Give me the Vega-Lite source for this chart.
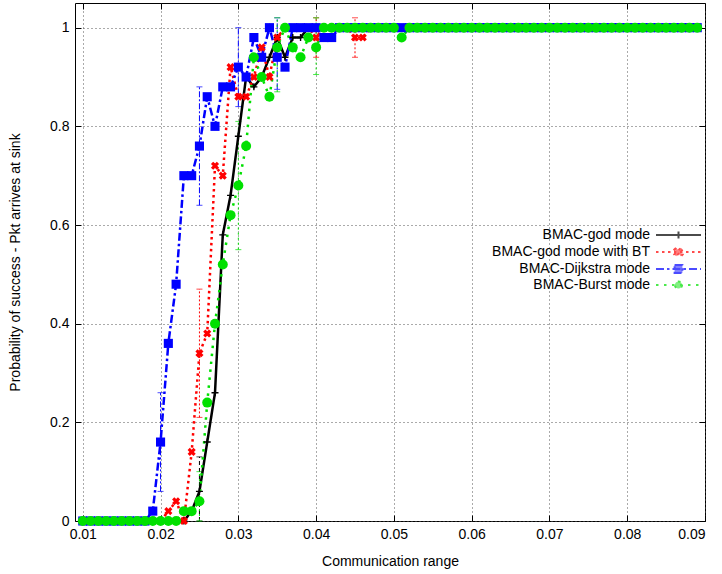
{
  "$schema": "https://vega.github.io/schema/vega-lite/v6.json",
  "width": 630,
  "height": 518,
  "autosize": {"type": "none"},
  "padding": {"left": 75, "top": 3, "right": 17, "bottom": 53},
  "background": "white",
  "config": {
    "view": {"stroke": "#000", "strokeWidth": 1},
    "font": "Liberation Sans",
    "axis": {
      "labelFont": "Liberation Sans", "labelFontSize": 14, "labelColor": "#000",
      "titleFont": "Liberation Sans", "titleFontSize": 14, "titleFontWeight": "normal", "titleColor": "#000",
      "domain": false, "gridColor": "#555", "gridDash": [1, 3], "gridOpacity": 1, "gridWidth": 1,
      "tickColor": "#000", "tickWidth": 1
    },
    "legend": {"title": null, "orient": "none", "legendX": 596.5, "legendY": 225, "padding": 0, "labelAlign": "right", "labelOffset": -35.5, "labelFont": "Liberation Sans", "labelFontSize": 14, "labelColor": "#000", "labelLimit": 400, "symbolSize": 144, "symbolStrokeWidth": 2, "rowPadding": 0}
  },
  "datasets": {
    "pts": [
      {"series":"BMAC-god mode","x":0.010,"y":0},{"series":"BMAC-god mode","x":0.011,"y":0},{"series":"BMAC-god mode","x":0.012,"y":0},{"series":"BMAC-god mode","x":0.013,"y":0},{"series":"BMAC-god mode","x":0.014,"y":0},{"series":"BMAC-god mode","x":0.015,"y":0},{"series":"BMAC-god mode","x":0.016,"y":0},{"series":"BMAC-god mode","x":0.017,"y":0},{"series":"BMAC-god mode","x":0.018,"y":0},{"series":"BMAC-god mode","x":0.019,"y":0},
      {"series":"BMAC-god mode","x":0.020,"y":0},{"series":"BMAC-god mode","x":0.021,"y":0},{"series":"BMAC-god mode","x":0.022,"y":0},{"series":"BMAC-god mode","x":0.023,"y":0},{"series":"BMAC-god mode","x":0.024,"y":0.02},{"series":"BMAC-god mode","x":0.025,"y":0.06},{"series":"BMAC-god mode","x":0.026,"y":0.16},{"series":"BMAC-god mode","x":0.027,"y":0.26},{"series":"BMAC-god mode","x":0.028,"y":0.58},{"series":"BMAC-god mode","x":0.029,"y":0.66},
      {"series":"BMAC-god mode","x":0.030,"y":0.78},{"series":"BMAC-god mode","x":0.031,"y":0.90},{"series":"BMAC-god mode","x":0.032,"y":0.88},{"series":"BMAC-god mode","x":0.033,"y":0.90},{"series":"BMAC-god mode","x":0.034,"y":0.94},{"series":"BMAC-god mode","x":0.035,"y":0.98},{"series":"BMAC-god mode","x":0.036,"y":0.94},{"series":"BMAC-god mode","x":0.037,"y":0.98},{"series":"BMAC-god mode","x":0.038,"y":0.98},{"series":"BMAC-god mode","x":0.039,"y":1},
      {"series":"BMAC-god mode","x":0.040,"y":1},{"series":"BMAC-god mode","x":0.041,"y":1},{"series":"BMAC-god mode","x":0.042,"y":1},{"series":"BMAC-god mode","x":0.043,"y":1},{"series":"BMAC-god mode","x":0.044,"y":1},{"series":"BMAC-god mode","x":0.045,"y":1},{"series":"BMAC-god mode","x":0.046,"y":1},{"series":"BMAC-god mode","x":0.047,"y":1},{"series":"BMAC-god mode","x":0.048,"y":1},{"series":"BMAC-god mode","x":0.049,"y":1},
      {"series":"BMAC-god mode","x":0.050,"y":1},{"series":"BMAC-god mode","x":0.051,"y":1},{"series":"BMAC-god mode","x":0.052,"y":1},{"series":"BMAC-god mode","x":0.053,"y":1},{"series":"BMAC-god mode","x":0.054,"y":1},{"series":"BMAC-god mode","x":0.055,"y":1},{"series":"BMAC-god mode","x":0.056,"y":1},{"series":"BMAC-god mode","x":0.057,"y":1},{"series":"BMAC-god mode","x":0.058,"y":1},{"series":"BMAC-god mode","x":0.059,"y":1},
      {"series":"BMAC-god mode","x":0.060,"y":1},{"series":"BMAC-god mode","x":0.061,"y":1},{"series":"BMAC-god mode","x":0.062,"y":1},{"series":"BMAC-god mode","x":0.063,"y":1},{"series":"BMAC-god mode","x":0.064,"y":1},{"series":"BMAC-god mode","x":0.065,"y":1},{"series":"BMAC-god mode","x":0.066,"y":1},{"series":"BMAC-god mode","x":0.067,"y":1},{"series":"BMAC-god mode","x":0.068,"y":1},{"series":"BMAC-god mode","x":0.069,"y":1},
      {"series":"BMAC-god mode","x":0.070,"y":1},{"series":"BMAC-god mode","x":0.071,"y":1},{"series":"BMAC-god mode","x":0.072,"y":1},{"series":"BMAC-god mode","x":0.073,"y":1},{"series":"BMAC-god mode","x":0.074,"y":1},{"series":"BMAC-god mode","x":0.075,"y":1},{"series":"BMAC-god mode","x":0.076,"y":1},{"series":"BMAC-god mode","x":0.077,"y":1},{"series":"BMAC-god mode","x":0.078,"y":1},{"series":"BMAC-god mode","x":0.079,"y":1},
      {"series":"BMAC-god mode","x":0.080,"y":1},{"series":"BMAC-god mode","x":0.081,"y":1},{"series":"BMAC-god mode","x":0.082,"y":1},{"series":"BMAC-god mode","x":0.083,"y":1},{"series":"BMAC-god mode","x":0.084,"y":1},{"series":"BMAC-god mode","x":0.085,"y":1},{"series":"BMAC-god mode","x":0.086,"y":1},{"series":"BMAC-god mode","x":0.087,"y":1},{"series":"BMAC-god mode","x":0.088,"y":1},{"series":"BMAC-god mode","x":0.089,"y":1},

      {"series":"BMAC-god mode with BT","x":0.010,"y":0},{"series":"BMAC-god mode with BT","x":0.011,"y":0},{"series":"BMAC-god mode with BT","x":0.012,"y":0},{"series":"BMAC-god mode with BT","x":0.013,"y":0},{"series":"BMAC-god mode with BT","x":0.014,"y":0},{"series":"BMAC-god mode with BT","x":0.015,"y":0},{"series":"BMAC-god mode with BT","x":0.016,"y":0},{"series":"BMAC-god mode with BT","x":0.017,"y":0},{"series":"BMAC-god mode with BT","x":0.018,"y":0},{"series":"BMAC-god mode with BT","x":0.019,"y":0},
      {"series":"BMAC-god mode with BT","x":0.020,"y":0},{"series":"BMAC-god mode with BT","x":0.021,"y":0.02},{"series":"BMAC-god mode with BT","x":0.022,"y":0.04},{"series":"BMAC-god mode with BT","x":0.023,"y":0},{"series":"BMAC-god mode with BT","x":0.024,"y":0.14},{"series":"BMAC-god mode with BT","x":0.025,"y":0.34},{"series":"BMAC-god mode with BT","x":0.026,"y":0.38},{"series":"BMAC-god mode with BT","x":0.027,"y":0.72},{"series":"BMAC-god mode with BT","x":0.028,"y":0.70},{"series":"BMAC-god mode with BT","x":0.029,"y":0.92},
      {"series":"BMAC-god mode with BT","x":0.030,"y":0.86},{"series":"BMAC-god mode with BT","x":0.031,"y":0.86},{"series":"BMAC-god mode with BT","x":0.032,"y":0.90},{"series":"BMAC-god mode with BT","x":0.033,"y":0.96},{"series":"BMAC-god mode with BT","x":0.034,"y":0.90},{"series":"BMAC-god mode with BT","x":0.035,"y":0.98},{"series":"BMAC-god mode with BT","x":0.036,"y":1},{"series":"BMAC-god mode with BT","x":0.037,"y":1},{"series":"BMAC-god mode with BT","x":0.038,"y":1},{"series":"BMAC-god mode with BT","x":0.039,"y":1},
      {"series":"BMAC-god mode with BT","x":0.040,"y":0.98},{"series":"BMAC-god mode with BT","x":0.041,"y":1},{"series":"BMAC-god mode with BT","x":0.042,"y":1},{"series":"BMAC-god mode with BT","x":0.043,"y":1},{"series":"BMAC-god mode with BT","x":0.044,"y":1},{"series":"BMAC-god mode with BT","x":0.045,"y":0.98},{"series":"BMAC-god mode with BT","x":0.046,"y":0.98},{"series":"BMAC-god mode with BT","x":0.047,"y":1},{"series":"BMAC-god mode with BT","x":0.048,"y":1},{"series":"BMAC-god mode with BT","x":0.049,"y":1},
      {"series":"BMAC-god mode with BT","x":0.050,"y":1},{"series":"BMAC-god mode with BT","x":0.051,"y":1},{"series":"BMAC-god mode with BT","x":0.052,"y":1},{"series":"BMAC-god mode with BT","x":0.053,"y":1},{"series":"BMAC-god mode with BT","x":0.054,"y":1},{"series":"BMAC-god mode with BT","x":0.055,"y":1},{"series":"BMAC-god mode with BT","x":0.056,"y":1},{"series":"BMAC-god mode with BT","x":0.057,"y":1},{"series":"BMAC-god mode with BT","x":0.058,"y":1},{"series":"BMAC-god mode with BT","x":0.059,"y":1},
      {"series":"BMAC-god mode with BT","x":0.060,"y":1},{"series":"BMAC-god mode with BT","x":0.061,"y":1},{"series":"BMAC-god mode with BT","x":0.062,"y":1},{"series":"BMAC-god mode with BT","x":0.063,"y":1},{"series":"BMAC-god mode with BT","x":0.064,"y":1},{"series":"BMAC-god mode with BT","x":0.065,"y":1},{"series":"BMAC-god mode with BT","x":0.066,"y":1},{"series":"BMAC-god mode with BT","x":0.067,"y":1},{"series":"BMAC-god mode with BT","x":0.068,"y":1},{"series":"BMAC-god mode with BT","x":0.069,"y":1},
      {"series":"BMAC-god mode with BT","x":0.070,"y":1},{"series":"BMAC-god mode with BT","x":0.071,"y":1},{"series":"BMAC-god mode with BT","x":0.072,"y":1},{"series":"BMAC-god mode with BT","x":0.073,"y":1},{"series":"BMAC-god mode with BT","x":0.074,"y":1},{"series":"BMAC-god mode with BT","x":0.075,"y":1},{"series":"BMAC-god mode with BT","x":0.076,"y":1},{"series":"BMAC-god mode with BT","x":0.077,"y":1},{"series":"BMAC-god mode with BT","x":0.078,"y":1},{"series":"BMAC-god mode with BT","x":0.079,"y":1},
      {"series":"BMAC-god mode with BT","x":0.080,"y":1},{"series":"BMAC-god mode with BT","x":0.081,"y":1},{"series":"BMAC-god mode with BT","x":0.082,"y":1},{"series":"BMAC-god mode with BT","x":0.083,"y":1},{"series":"BMAC-god mode with BT","x":0.084,"y":1},{"series":"BMAC-god mode with BT","x":0.085,"y":1},{"series":"BMAC-god mode with BT","x":0.086,"y":1},{"series":"BMAC-god mode with BT","x":0.087,"y":1},{"series":"BMAC-god mode with BT","x":0.088,"y":1},{"series":"BMAC-god mode with BT","x":0.089,"y":1},

      {"series":"BMAC-Dijkstra mode","x":0.010,"y":0},{"series":"BMAC-Dijkstra mode","x":0.011,"y":0},{"series":"BMAC-Dijkstra mode","x":0.012,"y":0},{"series":"BMAC-Dijkstra mode","x":0.013,"y":0},{"series":"BMAC-Dijkstra mode","x":0.014,"y":0},{"series":"BMAC-Dijkstra mode","x":0.015,"y":0},{"series":"BMAC-Dijkstra mode","x":0.016,"y":0},{"series":"BMAC-Dijkstra mode","x":0.017,"y":0},{"series":"BMAC-Dijkstra mode","x":0.018,"y":0},{"series":"BMAC-Dijkstra mode","x":0.019,"y":0.02},
      {"series":"BMAC-Dijkstra mode","x":0.020,"y":0.16},{"series":"BMAC-Dijkstra mode","x":0.021,"y":0.36},{"series":"BMAC-Dijkstra mode","x":0.022,"y":0.48},{"series":"BMAC-Dijkstra mode","x":0.023,"y":0.70},{"series":"BMAC-Dijkstra mode","x":0.024,"y":0.70},{"series":"BMAC-Dijkstra mode","x":0.025,"y":0.76},{"series":"BMAC-Dijkstra mode","x":0.026,"y":0.86},{"series":"BMAC-Dijkstra mode","x":0.027,"y":0.80},{"series":"BMAC-Dijkstra mode","x":0.028,"y":0.88},{"series":"BMAC-Dijkstra mode","x":0.029,"y":0.88},
      {"series":"BMAC-Dijkstra mode","x":0.030,"y":0.92},{"series":"BMAC-Dijkstra mode","x":0.031,"y":0.90},{"series":"BMAC-Dijkstra mode","x":0.032,"y":0.98},{"series":"BMAC-Dijkstra mode","x":0.033,"y":0.94},{"series":"BMAC-Dijkstra mode","x":0.034,"y":1},{"series":"BMAC-Dijkstra mode","x":0.035,"y":0.94},{"series":"BMAC-Dijkstra mode","x":0.036,"y":0.92},{"series":"BMAC-Dijkstra mode","x":0.037,"y":1},{"series":"BMAC-Dijkstra mode","x":0.038,"y":1},{"series":"BMAC-Dijkstra mode","x":0.039,"y":1},
      {"series":"BMAC-Dijkstra mode","x":0.040,"y":1},{"series":"BMAC-Dijkstra mode","x":0.041,"y":0.98},{"series":"BMAC-Dijkstra mode","x":0.042,"y":0.98},{"series":"BMAC-Dijkstra mode","x":0.043,"y":1},{"series":"BMAC-Dijkstra mode","x":0.044,"y":1},{"series":"BMAC-Dijkstra mode","x":0.045,"y":1},{"series":"BMAC-Dijkstra mode","x":0.046,"y":1},{"series":"BMAC-Dijkstra mode","x":0.047,"y":1},{"series":"BMAC-Dijkstra mode","x":0.048,"y":1},{"series":"BMAC-Dijkstra mode","x":0.049,"y":1},
      {"series":"BMAC-Dijkstra mode","x":0.050,"y":1},{"series":"BMAC-Dijkstra mode","x":0.051,"y":1},{"series":"BMAC-Dijkstra mode","x":0.052,"y":1},{"series":"BMAC-Dijkstra mode","x":0.053,"y":1},{"series":"BMAC-Dijkstra mode","x":0.054,"y":1},{"series":"BMAC-Dijkstra mode","x":0.055,"y":1},{"series":"BMAC-Dijkstra mode","x":0.056,"y":1},{"series":"BMAC-Dijkstra mode","x":0.057,"y":1},{"series":"BMAC-Dijkstra mode","x":0.058,"y":1},{"series":"BMAC-Dijkstra mode","x":0.059,"y":1},
      {"series":"BMAC-Dijkstra mode","x":0.060,"y":1},{"series":"BMAC-Dijkstra mode","x":0.061,"y":1},{"series":"BMAC-Dijkstra mode","x":0.062,"y":1},{"series":"BMAC-Dijkstra mode","x":0.063,"y":1},{"series":"BMAC-Dijkstra mode","x":0.064,"y":1},{"series":"BMAC-Dijkstra mode","x":0.065,"y":1},{"series":"BMAC-Dijkstra mode","x":0.066,"y":1},{"series":"BMAC-Dijkstra mode","x":0.067,"y":1},{"series":"BMAC-Dijkstra mode","x":0.068,"y":1},{"series":"BMAC-Dijkstra mode","x":0.069,"y":1},
      {"series":"BMAC-Dijkstra mode","x":0.070,"y":1},{"series":"BMAC-Dijkstra mode","x":0.071,"y":1},{"series":"BMAC-Dijkstra mode","x":0.072,"y":1},{"series":"BMAC-Dijkstra mode","x":0.073,"y":1},{"series":"BMAC-Dijkstra mode","x":0.074,"y":1},{"series":"BMAC-Dijkstra mode","x":0.075,"y":1},{"series":"BMAC-Dijkstra mode","x":0.076,"y":1},{"series":"BMAC-Dijkstra mode","x":0.077,"y":1},{"series":"BMAC-Dijkstra mode","x":0.078,"y":1},{"series":"BMAC-Dijkstra mode","x":0.079,"y":1},
      {"series":"BMAC-Dijkstra mode","x":0.080,"y":1},{"series":"BMAC-Dijkstra mode","x":0.081,"y":1},{"series":"BMAC-Dijkstra mode","x":0.082,"y":1},{"series":"BMAC-Dijkstra mode","x":0.083,"y":1},{"series":"BMAC-Dijkstra mode","x":0.084,"y":1},{"series":"BMAC-Dijkstra mode","x":0.085,"y":1},{"series":"BMAC-Dijkstra mode","x":0.086,"y":1},{"series":"BMAC-Dijkstra mode","x":0.087,"y":1},{"series":"BMAC-Dijkstra mode","x":0.088,"y":1},{"series":"BMAC-Dijkstra mode","x":0.089,"y":1},

      {"series":"BMAC-Burst mode","x":0.010,"y":0},{"series":"BMAC-Burst mode","x":0.011,"y":0},{"series":"BMAC-Burst mode","x":0.012,"y":0},{"series":"BMAC-Burst mode","x":0.013,"y":0},{"series":"BMAC-Burst mode","x":0.014,"y":0},{"series":"BMAC-Burst mode","x":0.015,"y":0},{"series":"BMAC-Burst mode","x":0.016,"y":0},{"series":"BMAC-Burst mode","x":0.017,"y":0},{"series":"BMAC-Burst mode","x":0.018,"y":0},{"series":"BMAC-Burst mode","x":0.019,"y":0},
      {"series":"BMAC-Burst mode","x":0.020,"y":0},{"series":"BMAC-Burst mode","x":0.021,"y":0},{"series":"BMAC-Burst mode","x":0.022,"y":0},{"series":"BMAC-Burst mode","x":0.023,"y":0.02},{"series":"BMAC-Burst mode","x":0.024,"y":0.02},{"series":"BMAC-Burst mode","x":0.025,"y":0.04},{"series":"BMAC-Burst mode","x":0.026,"y":0.24},{"series":"BMAC-Burst mode","x":0.027,"y":0.40},{"series":"BMAC-Burst mode","x":0.028,"y":0.52},{"series":"BMAC-Burst mode","x":0.029,"y":0.62},
      {"series":"BMAC-Burst mode","x":0.030,"y":0.68},{"series":"BMAC-Burst mode","x":0.031,"y":0.76},{"series":"BMAC-Burst mode","x":0.032,"y":0.94},{"series":"BMAC-Burst mode","x":0.033,"y":0.90},{"series":"BMAC-Burst mode","x":0.034,"y":0.86},{"series":"BMAC-Burst mode","x":0.035,"y":0.96},{"series":"BMAC-Burst mode","x":0.036,"y":1},{"series":"BMAC-Burst mode","x":0.037,"y":0.96},{"series":"BMAC-Burst mode","x":0.038,"y":0.94},{"series":"BMAC-Burst mode","x":0.039,"y":0.98},
      {"series":"BMAC-Burst mode","x":0.040,"y":0.96},{"series":"BMAC-Burst mode","x":0.041,"y":1},{"series":"BMAC-Burst mode","x":0.042,"y":1},{"series":"BMAC-Burst mode","x":0.043,"y":1},{"series":"BMAC-Burst mode","x":0.044,"y":1},{"series":"BMAC-Burst mode","x":0.045,"y":1},{"series":"BMAC-Burst mode","x":0.046,"y":1},{"series":"BMAC-Burst mode","x":0.047,"y":1},{"series":"BMAC-Burst mode","x":0.048,"y":1},{"series":"BMAC-Burst mode","x":0.049,"y":1},
      {"series":"BMAC-Burst mode","x":0.050,"y":1},{"series":"BMAC-Burst mode","x":0.051,"y":0.98},{"series":"BMAC-Burst mode","x":0.052,"y":1},{"series":"BMAC-Burst mode","x":0.053,"y":1},{"series":"BMAC-Burst mode","x":0.054,"y":1},{"series":"BMAC-Burst mode","x":0.055,"y":1},{"series":"BMAC-Burst mode","x":0.056,"y":1},{"series":"BMAC-Burst mode","x":0.057,"y":1},{"series":"BMAC-Burst mode","x":0.058,"y":1},{"series":"BMAC-Burst mode","x":0.059,"y":1},
      {"series":"BMAC-Burst mode","x":0.060,"y":1},{"series":"BMAC-Burst mode","x":0.061,"y":1},{"series":"BMAC-Burst mode","x":0.062,"y":1},{"series":"BMAC-Burst mode","x":0.063,"y":1},{"series":"BMAC-Burst mode","x":0.064,"y":1},{"series":"BMAC-Burst mode","x":0.065,"y":1},{"series":"BMAC-Burst mode","x":0.066,"y":1},{"series":"BMAC-Burst mode","x":0.067,"y":1},{"series":"BMAC-Burst mode","x":0.068,"y":1},{"series":"BMAC-Burst mode","x":0.069,"y":1},
      {"series":"BMAC-Burst mode","x":0.070,"y":1},{"series":"BMAC-Burst mode","x":0.071,"y":1},{"series":"BMAC-Burst mode","x":0.072,"y":1},{"series":"BMAC-Burst mode","x":0.073,"y":1},{"series":"BMAC-Burst mode","x":0.074,"y":1},{"series":"BMAC-Burst mode","x":0.075,"y":1},{"series":"BMAC-Burst mode","x":0.076,"y":1},{"series":"BMAC-Burst mode","x":0.077,"y":1},{"series":"BMAC-Burst mode","x":0.078,"y":1},{"series":"BMAC-Burst mode","x":0.079,"y":1},
      {"series":"BMAC-Burst mode","x":0.080,"y":1},{"series":"BMAC-Burst mode","x":0.081,"y":1},{"series":"BMAC-Burst mode","x":0.082,"y":1},{"series":"BMAC-Burst mode","x":0.083,"y":1},{"series":"BMAC-Burst mode","x":0.084,"y":1},{"series":"BMAC-Burst mode","x":0.085,"y":1},{"series":"BMAC-Burst mode","x":0.086,"y":1},{"series":"BMAC-Burst mode","x":0.087,"y":1},{"series":"BMAC-Burst mode","x":0.088,"y":1},{"series":"BMAC-Burst mode","x":0.089,"y":1}
    ],
    "err": [
      {"series":"BMAC-god mode","x":0.025,"lo":0.0,"hi":0.13},
      {"series":"BMAC-god mode with BT","x":0.025,"lo":0.21,"hi":0.47},
      {"series":"BMAC-god mode with BT","x":0.040,"lo":0.94,"hi":1.02},
      {"series":"BMAC-god mode with BT","x":0.045,"lo":0.94,"hi":1.02},
      {"series":"BMAC-Dijkstra mode","x":0.020,"lo":0.06,"hi":0.26},
      {"series":"BMAC-Dijkstra mode","x":0.025,"lo":0.64,"hi":0.88},
      {"series":"BMAC-Dijkstra mode","x":0.030,"lo":0.84,"hi":1.0},
      {"series":"BMAC-Dijkstra mode","x":0.035,"lo":0.875,"hi":1.02},
      {"series":"BMAC-Burst mode","x":0.025,"lo":0.0,"hi":0.10},
      {"series":"BMAC-Burst mode","x":0.030,"lo":0.55,"hi":0.81},
      {"series":"BMAC-Burst mode","x":0.035,"lo":0.87,"hi":1.02},
      {"series":"BMAC-Burst mode","x":0.040,"lo":0.905,"hi":1.02}
    ]
  },
  "resolve": {
    "scale": {"shape": "independent", "strokeDash": "independent", "fill": "independent", "stroke": "independent"},
    "axis": {"x": "independent", "y": "independent"}
  },
  "layer": [
    {
      "data": {"name": "err"},
      "mark": {"type": "rule", "strokeWidth": 1},
      "encoding": {
        "x": {"field": "x", "type": "quantitative", "scale": {"domain": [0.009, 0.09], "nice": false, "zero": false}, "axis": null},
        "y": {"field": "lo", "type": "quantitative", "scale": {"domain": [0, 1.05], "nice": false, "zero": false}, "axis": null},
        "y2": {"field": "hi"},
        "color": {"field": "series", "type": "nominal", "legend": null,
          "scale": {"domain": ["BMAC-god mode", "BMAC-god mode with BT", "BMAC-Dijkstra mode", "BMAC-Burst mode"], "range": ["#000000", "#ff0000", "#0000ff", "#00e000"]}},
        "strokeDash": {"field": "series", "type": "nominal", "legend": null,
          "scale": {"domain": ["BMAC-god mode", "BMAC-god mode with BT", "BMAC-Dijkstra mode", "BMAC-Burst mode"], "range": [[4, 3], [2, 2], [6, 2, 2, 2], [2, 3]]}}
      }
    },
    {
      "data": {"name": "err"},
      "mark": {"type": "point", "shape": "stroke", "filled": false, "size": 36, "strokeWidth": 1},
      "encoding": {
        "x": {"field": "x", "type": "quantitative", "axis": null},
        "y": {"field": "lo", "type": "quantitative", "axis": null},
        "color": {"field": "series", "type": "nominal", "legend": null}
      }
    },
    {
      "data": {"name": "err"},
      "mark": {"type": "point", "shape": "stroke", "filled": false, "size": 36, "strokeWidth": 1},
      "encoding": {
        "x": {"field": "x", "type": "quantitative", "axis": null},
        "y": {"field": "hi", "type": "quantitative", "axis": null},
        "color": {"field": "series", "type": "nominal", "legend": null}
      }
    },
    {
      "data": {"name": "pts"},
      "mark": {"type": "line", "strokeWidth": 2.5, "strokeCap": "butt"},
      "encoding": {
        "x": {"field": "x", "type": "quantitative",
          "axis": {"orient": "bottom", "values": [0.01, 0.02, 0.03, 0.04, 0.05, 0.06, 0.07, 0.08, 0.09], "format": ".2f", "title": "Communication range", "grid": true, "tickSize": -6, "labelPadding": 12, "titlePadding": 13}},
        "y": {"field": "y", "type": "quantitative",
          "axis": {"orient": "left", "values": [0, 0.2, 0.4, 0.6, 0.8, 1], "format": ".1~f", "title": "Probability of success - Pkt arrives at sink", "grid": true, "tickSize": -6, "labelPadding": 12, "titlePadding": 27}},
        "color": {"field": "series", "type": "nominal", "legend": null},
        "strokeDash": {"field": "series", "type": "nominal", "legend": null,
          "scale": {"domain": ["BMAC-god mode", "BMAC-god mode with BT", "BMAC-Dijkstra mode", "BMAC-Burst mode"], "range": [[1, 0], [2.5, 3.5], [8, 3, 2.5, 3], [2.5, 5.5]]}},
        "order": {"field": "x", "type": "quantitative"}
      }
    },
    {
      "data": {"name": "pts"},
      "mark": {"type": "point", "filled": true, "opacity": 1},
      "encoding": {
        "x": {"field": "x", "type": "quantitative",
          "axis": {"orient": "top", "values": [0.01, 0.02, 0.03, 0.04, 0.05, 0.06, 0.07, 0.08, 0.09], "labels": false, "grid": false, "tickSize": -6, "title": null}},
        "y": {"field": "y", "type": "quantitative",
          "axis": {"orient": "right", "values": [0, 0.2, 0.4, 0.6, 0.8, 1], "labels": false, "grid": false, "tickSize": -6, "title": null}},
        "color": {"field": "series", "type": "nominal", "legend": null},
        "shape": {"field": "series", "type": "nominal", "legend": null,
          "scale": {"domain": ["BMAC-god mode", "BMAC-god mode with BT", "BMAC-Dijkstra mode", "BMAC-Burst mode"],
            "range": ["M-1,-0.2H-0.2V-1H0.2V-0.2H1V0.2H0.2V1H-0.2V0.2H-1Z", "M-1,-0.45L-0.45,-1L0,-0.55L0.45,-1L1,-0.45L0.55,0L1,0.45L0.45,1L0,0.55L-0.45,1L-1,0.45L-0.55,0Z", "square", "circle"]}},
        "size": {"field": "series", "type": "nominal", "legend": null,
          "scale": {"domain": ["BMAC-god mode", "BMAC-god mode with BT", "BMAC-Dijkstra mode", "BMAC-Burst mode"], "range": [49, 100, 64, 50]}}
      }
    },
    {
      "data": {"name": "pts"},
      "transform": [{"filter": "false"}],
      "mark": {"type": "point", "filled": true, "size": 144, "strokeWidth": 2},
      "encoding": {
        "fill": {"field": "series", "type": "nominal",
          "scale": {"domain": ["BMAC-god mode", "BMAC-god mode with BT", "BMAC-Dijkstra mode", "BMAC-Burst mode"], "range": ["#000000", "#ff0000", "#0000ff", "#00e000"]},
          "legend": {"title": null, "orient": "none", "legendX": 596.5, "legendY": 225}},
        "stroke": {"field": "series", "type": "nominal",
          "scale": {"domain": ["BMAC-god mode", "BMAC-god mode with BT", "BMAC-Dijkstra mode", "BMAC-Burst mode"], "range": ["#000000", "#ff0000", "#0000ff", "#00e000"]},
          "legend": {"title": null, "orient": "none", "legendX": 596.5, "legendY": 225}},
        "shape": {"field": "series", "type": "nominal",
          "scale": {"domain": ["BMAC-god mode", "BMAC-god mode with BT", "BMAC-Dijkstra mode", "BMAC-Burst mode"],
            "range": ["M-3.75,0H3.75M-0.6,0H0.6M0,-0.6V0.6", "M-3.75,0H3.75M-0.7,-0.4L-0.4,-0.7L0,-0.3L0.4,-0.7L0.7,-0.4L0.3,0L0.7,0.4L0.4,0.7L0,0.3L-0.4,0.7L-0.7,0.4L-0.3,0Z", "M-3.75,0H3.75M-0.65,-0.65H0.65V0.65H-0.65Z", "M-3.75,0H3.75M0.6,0A0.6,0.6,0,1,1,-0.6,0A0.6,0.6,0,1,1,0.6,0Z"]},
          "legend": {"title": null, "orient": "none", "legendX": 596.5, "legendY": 225}},
        "strokeDash": {"field": "series", "type": "nominal",
          "scale": {"domain": ["BMAC-god mode", "BMAC-god mode with BT", "BMAC-Dijkstra mode", "BMAC-Burst mode"], "range": [[1, 0], [2.5, 3.5], [8, 3, 2.5, 3], [2.5, 5.5]]},
          "legend": {"title": null, "orient": "none", "legendX": 596.5, "legendY": 225}}
      }
    }
  ]
}
